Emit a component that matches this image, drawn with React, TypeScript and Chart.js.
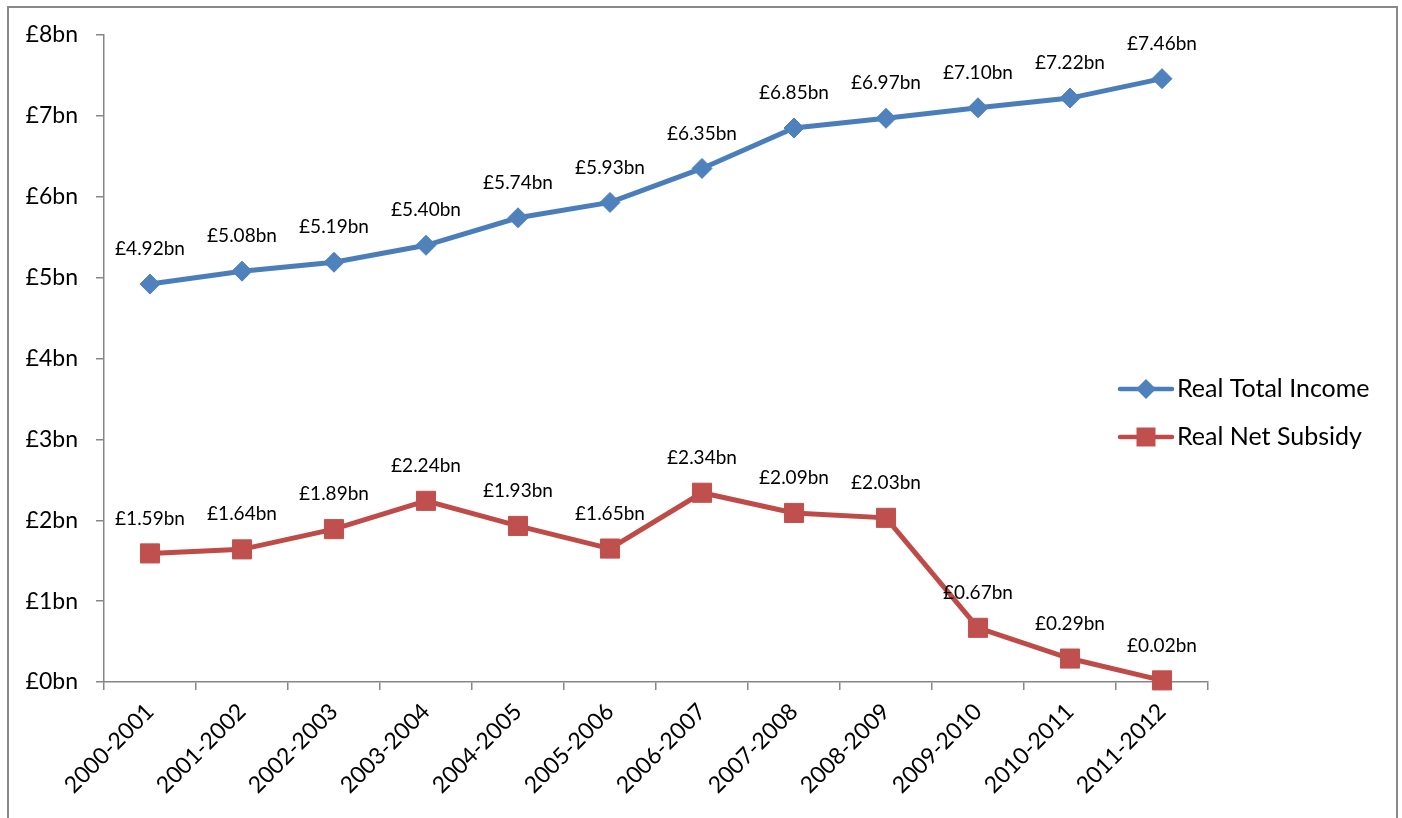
import React, { useEffect, useRef } from "react";
import { Chart, registerables } from "chart.js";

Chart.register(...registerables);

const categories = [
  "2000-2001", "2001-2002", "2002-2003", "2003-2004", "2004-2005", "2005-2006",
  "2006-2007", "2007-2008", "2008-2009", "2009-2010", "2010-2011", "2011-2012",
];
const realTotalIncome = [4.92, 5.08, 5.19, 5.40, 5.74, 5.93, 6.35, 6.85, 6.97, 7.10, 7.22, 7.46];
const realNetSubsidy = [1.59, 1.64, 1.89, 2.24, 1.93, 1.65, 2.34, 2.09, 2.03, 0.67, 0.29, 0.02];
const seriesNames = ["Real Total Income", "Real Net Subsidy"];
const yTicks = [0, 1, 2, 3, 4, 5, 6, 7, 8];

const FONT = "Lato, 'Open Sans', sans-serif";
const AXIS = "#868686";
const BLUE_LINE = "#4A7EBB";
const BLUE_MARK = "#4F81BD";
const RED_LINE = "#BE4B48";
const RED_MARK = "#C0504D";

const fmt = (v: number) => "£" + v.toFixed(2) + "bn";

const framePlugin = {
  id: "frame",
  beforeDraw(chart: any) {
    const ctx = chart.ctx;
    ctx.save();
    ctx.fillStyle = "#ffffff";
    ctx.fillRect(0, 0, chart.width, chart.height);
    ctx.strokeStyle = "#898989";
    ctx.lineWidth = 2;
    ctx.strokeRect(8, 7, 1389, 900);
    ctx.restore();
  },
};

const drawMarker = (ctx: any, style: string, x: number, y: number) => {
  ctx.beginPath();
  if (style === "rect") {
    ctx.rect(x - 9.5, y - 9.5, 19, 19);
  } else {
    ctx.moveTo(x, y - 10);
    ctx.lineTo(x + 10, y);
    ctx.lineTo(x, y + 10);
    ctx.lineTo(x - 10, y);
    ctx.closePath();
  }
  ctx.fill();
};

const labelsPlugin = {
  id: "dataLabels",
  afterDatasetsDraw(chart: any) {
    const ctx = chart.ctx;
    ctx.save();
    ctx.font = "19px " + FONT;
    ctx.fillStyle = "#000000";
    ctx.textAlign = "center";
    ctx.textBaseline = "middle";
    chart.data.datasets.forEach((ds: any, i: number) => {
      const meta = chart.getDatasetMeta(i);
      meta.data.forEach((pt: any, j: number) => {
        ctx.fillText(fmt(ds.data[j]), pt.x, pt.y - 35);
      });
    });
    ctx.restore();
  },
  afterDraw(chart: any) {
    const ctx = chart.ctx;
    ctx.save();
    const items = [
      { name: seriesNames[0], line: BLUE_LINE, mark: BLUE_MARK, style: "rectRot", y: 389 },
      { name: seriesNames[1], line: RED_LINE, mark: RED_MARK, style: "rect", y: 437 },
    ];
    items.forEach((it) => {
      ctx.strokeStyle = it.line;
      ctx.lineWidth = 4.5;
      ctx.lineCap = "round";
      ctx.beginPath();
      ctx.moveTo(1120, it.y);
      ctx.lineTo(1172, it.y);
      ctx.stroke();
      ctx.fillStyle = it.mark;
      drawMarker(ctx, it.style, 1146, it.y);
      ctx.fillStyle = "#000000";
      ctx.font = "25px " + FONT;
      ctx.textAlign = "left";
      ctx.textBaseline = "middle";
      ctx.fillText(it.name, 1177, it.y);
    });
    ctx.restore();
  },
};

export default function App() {
  const ref = useRef<HTMLCanvasElement>(null);
  useEffect(() => {
    document.body.style.margin = "0";
    const chart = new Chart(ref.current!, {
      type: "line",
      data: {
        labels: categories,
        datasets: [
          {
            label: seriesNames[0],
            data: realTotalIncome,
            borderColor: BLUE_LINE,
            backgroundColor: BLUE_MARK,
            borderWidth: 5,
            pointStyle: "rectRot",
            pointRadius: 10,
            pointBorderWidth: 1,
            pointBorderColor: BLUE_MARK,
            pointBackgroundColor: BLUE_MARK,
            tension: 0,
            clip: false,
          },
          {
            label: seriesNames[1],
            data: realNetSubsidy,
            borderColor: RED_LINE,
            backgroundColor: RED_MARK,
            borderWidth: 5,
            pointStyle: "rect",
            pointRadius: 13.5,
            pointBorderWidth: 1,
            pointBorderColor: RED_MARK,
            pointBackgroundColor: RED_MARK,
            tension: 0,
            clip: false,
          },
        ],
      },
      options: {
        animation: false,
        responsive: false,
        maintainAspectRatio: false,
        layout: { padding: { left: 0, top: 35, right: 194, bottom: 0 } },
        plugins: { legend: { display: false }, tooltip: { enabled: false } },
        scales: {
          x: {
            type: "category",
            offset: true,
            afterFit: (s: any) => { s.height = 136; },
            grid: {
              offset: true,
              drawOnChartArea: false,
              drawTicks: true,
              tickLength: 8,
              color: AXIS,
              lineWidth: 1.5,
            },
            border: { color: AXIS, width: 1.5 },
            ticks: {
              minRotation: 45,
              maxRotation: 45,
              autoSkip: false,
              color: "#000000",
              font: { family: FONT, size: 23 },
              padding: 8,
            },
          },
          y: {
            min: 0,
            max: 8,
            afterFit: (s: any) => { s.width = 104; },
            afterBuildTicks: (s: any) => { s.ticks = yTicks.map((v) => ({ value: v })); },
            grid: {
              drawOnChartArea: false,
              drawTicks: true,
              tickLength: 8,
              color: AXIS,
              lineWidth: 1.5,
            },
            border: { color: AXIS, width: 1.5 },
            ticks: {
              stepSize: 1,
              color: "#000000",
              font: { family: FONT, size: 23 },
              padding: 18,
              callback: (v: any) => "£" + v + "bn",
            },
          },
        },
      },
      plugins: [framePlugin, labelsPlugin],
    });
    return () => chart.destroy();
  }, []);
  return <canvas ref={ref} width={1402} height={818} style={{ display: "block" }} />;
}
